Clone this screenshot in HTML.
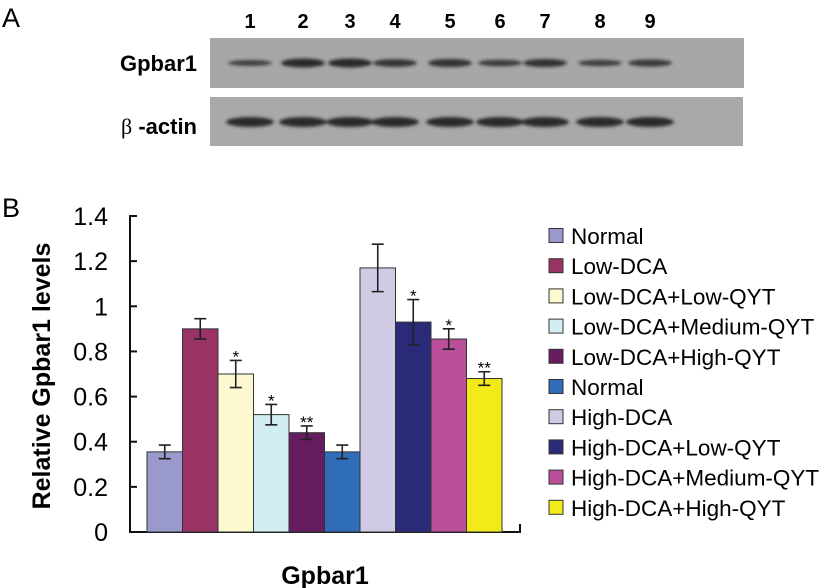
<!DOCTYPE html>
<html><head><meta charset="utf-8"><style>
body{margin:0;background:#fff;font-family:"Liberation Sans",Arial,sans-serif}
svg{display:block}
</style></head><body>
<svg id="fig" width="835" height="588" font-family="Liberation Sans, Arial, sans-serif">
<defs><filter id="blur"><feGaussianBlur stdDeviation="1.6"/></filter></defs>
<text x="2" y="27" font-size="27">A</text>
<text x="2" y="217" font-size="27">B</text>
<g id="lanes"></g>
<rect x="210" y="38" width="534" height="50" fill="#a7a7a7"/>
<rect x="210" y="97" width="533" height="49" fill="#a9a9a9"/>
<g id="bands" filter="url(#blur)"></g>
<text x="197" y="71" font-size="22" font-weight="bold" text-anchor="end">Gpbar1</text>
<text x="197" y="134" font-size="22" font-weight="bold" text-anchor="end"><tspan font-weight="normal" font-family="Liberation Serif, serif">β</tspan> -actin</text>
<g id="chart"></g>
<text transform="translate(50,376) rotate(-90)" font-size="25" font-weight="bold" text-anchor="middle">Relative Gpbar1 levels</text>
<text x="325" y="584" font-size="25" font-weight="bold" text-anchor="middle">Gpbar1</text>
<g id="legend"></g>
</svg>
<script>
const categories=["Normal","Low-DCA","Low-DCA+Low-QYT","Low-DCA+Medium-QYT","Low-DCA+High-QYT","Normal","High-DCA","High-DCA+Low-QYT","High-DCA+Medium-QYT","High-DCA+High-QYT"];
const values=[0.355,0.90,0.70,0.52,0.44,0.355,1.17,0.93,0.855,0.68];
const errors=[0.03,0.045,0.06,0.045,0.03,0.03,0.105,0.10,0.045,0.03];
const stars=["","","*","*","**","","","*","*","**"];
const colors=["#9999cc","#993366","#fcf9d0","#d3edf4","#661c60","#2f6db8","#cfcbe4","#2a2a78","#bb4f9c","#f3ea1a"];
const yTicks=[0,0.2,0.4,0.6,0.8,1,1.2,1.4];
const laneLabels=["1","2","3","4","5","6","7","8","9"];
const gpbarBand=[0.5,1.0,1.0,0.8,0.85,0.6,0.85,0.55,0.7];
const actinBand=[1,1,1,1,1,1,1,1,1];
const NS="http://www.w3.org/2000/svg";
function mk(t,a,p){const e=document.createElementNS(NS,t);for(const k in a)e.setAttribute(k,a[k]);p.appendChild(e);return e;}
const y0=532,y1=216,yMax=1.4;
function yS(v){return y0-(v/yMax)*(y0-y1);}
const barX0=147,barW=35.5;
function xS(i){return barX0+i*barW;}
const chart=document.getElementById('chart');
let ax=mk('path',{d:`M136 216 H130 V532 H520 V524`,fill:'none',stroke:'#111','stroke-width':2},chart);


yTicks.forEach(t=>{
 const y=yS(t);
 let l=mk('line',{x1:130,x2:137,y1:y,y2:y,stroke:'#111','stroke-width':2},chart);
 
 
 let tx=mk('text',{x:108,y:y+9,'font-size':25,'text-anchor':'end'},chart);
 tx.textContent=String(t);
 
 
});
values.forEach((v,i)=>{
 const x=xS(i),y=yS(v);
 let r=mk('rect',{x:x,y:y,width:barW,height:y0-y,fill:colors[i],stroke:'#333','stroke-width':1},chart);
 
 
 const cx=x+barW/2,eT=yS(v+errors[i]),eB=yS(v-errors[i]);
 let e=mk('path',{d:`M${cx} ${eT}V${eB}M${cx-6} ${eT}H${cx+6}M${cx-6} ${eB}H${cx+6}`,stroke:'#222','stroke-width':1.6,fill:'none'},chart);
 
 
 if(stars[i]){let s=mk('text',{x:cx,y:eT+2,'font-size':17,'text-anchor':'middle'},chart);s.textContent=stars[i];
 
 }
});
const leg=document.getElementById('legend');
categories.forEach((c,i)=>{
 const y=236+i*30.2;
 let g=mk('g',{},leg);
 
 
 mk('rect',{x:549,y:y-7.5,width:14,height:14,fill:colors[i],stroke:'#333','stroke-width':1},g);
 let t=mk('text',{x:571,y:y+8,'font-size':22.5},g);t.textContent=c;
});
const laneX=[250,303,350,395,450,500,545,600,650];
const lg=document.getElementById('lanes'),bg=document.getElementById('bands');
laneLabels.forEach((l,i)=>{
 let t=mk('text',{x:laneX[i],y:28,'font-size':20,'font-weight':'bold','text-anchor':'middle'},lg);t.textContent=l;
 
 
 let b=mk('ellipse',{cx:laneX[i],cy:63,rx:22,ry:1.5+3*gpbarBand[i],fill:'#222',opacity:0.6+0.35*gpbarBand[i]},bg);
 
 
 let a=mk('ellipse',{cx:laneX[i],cy:122,rx:24,ry:5*actinBand[i],fill:'#2a2a2a'},bg);
 
 
});
</script>
</body></html>
